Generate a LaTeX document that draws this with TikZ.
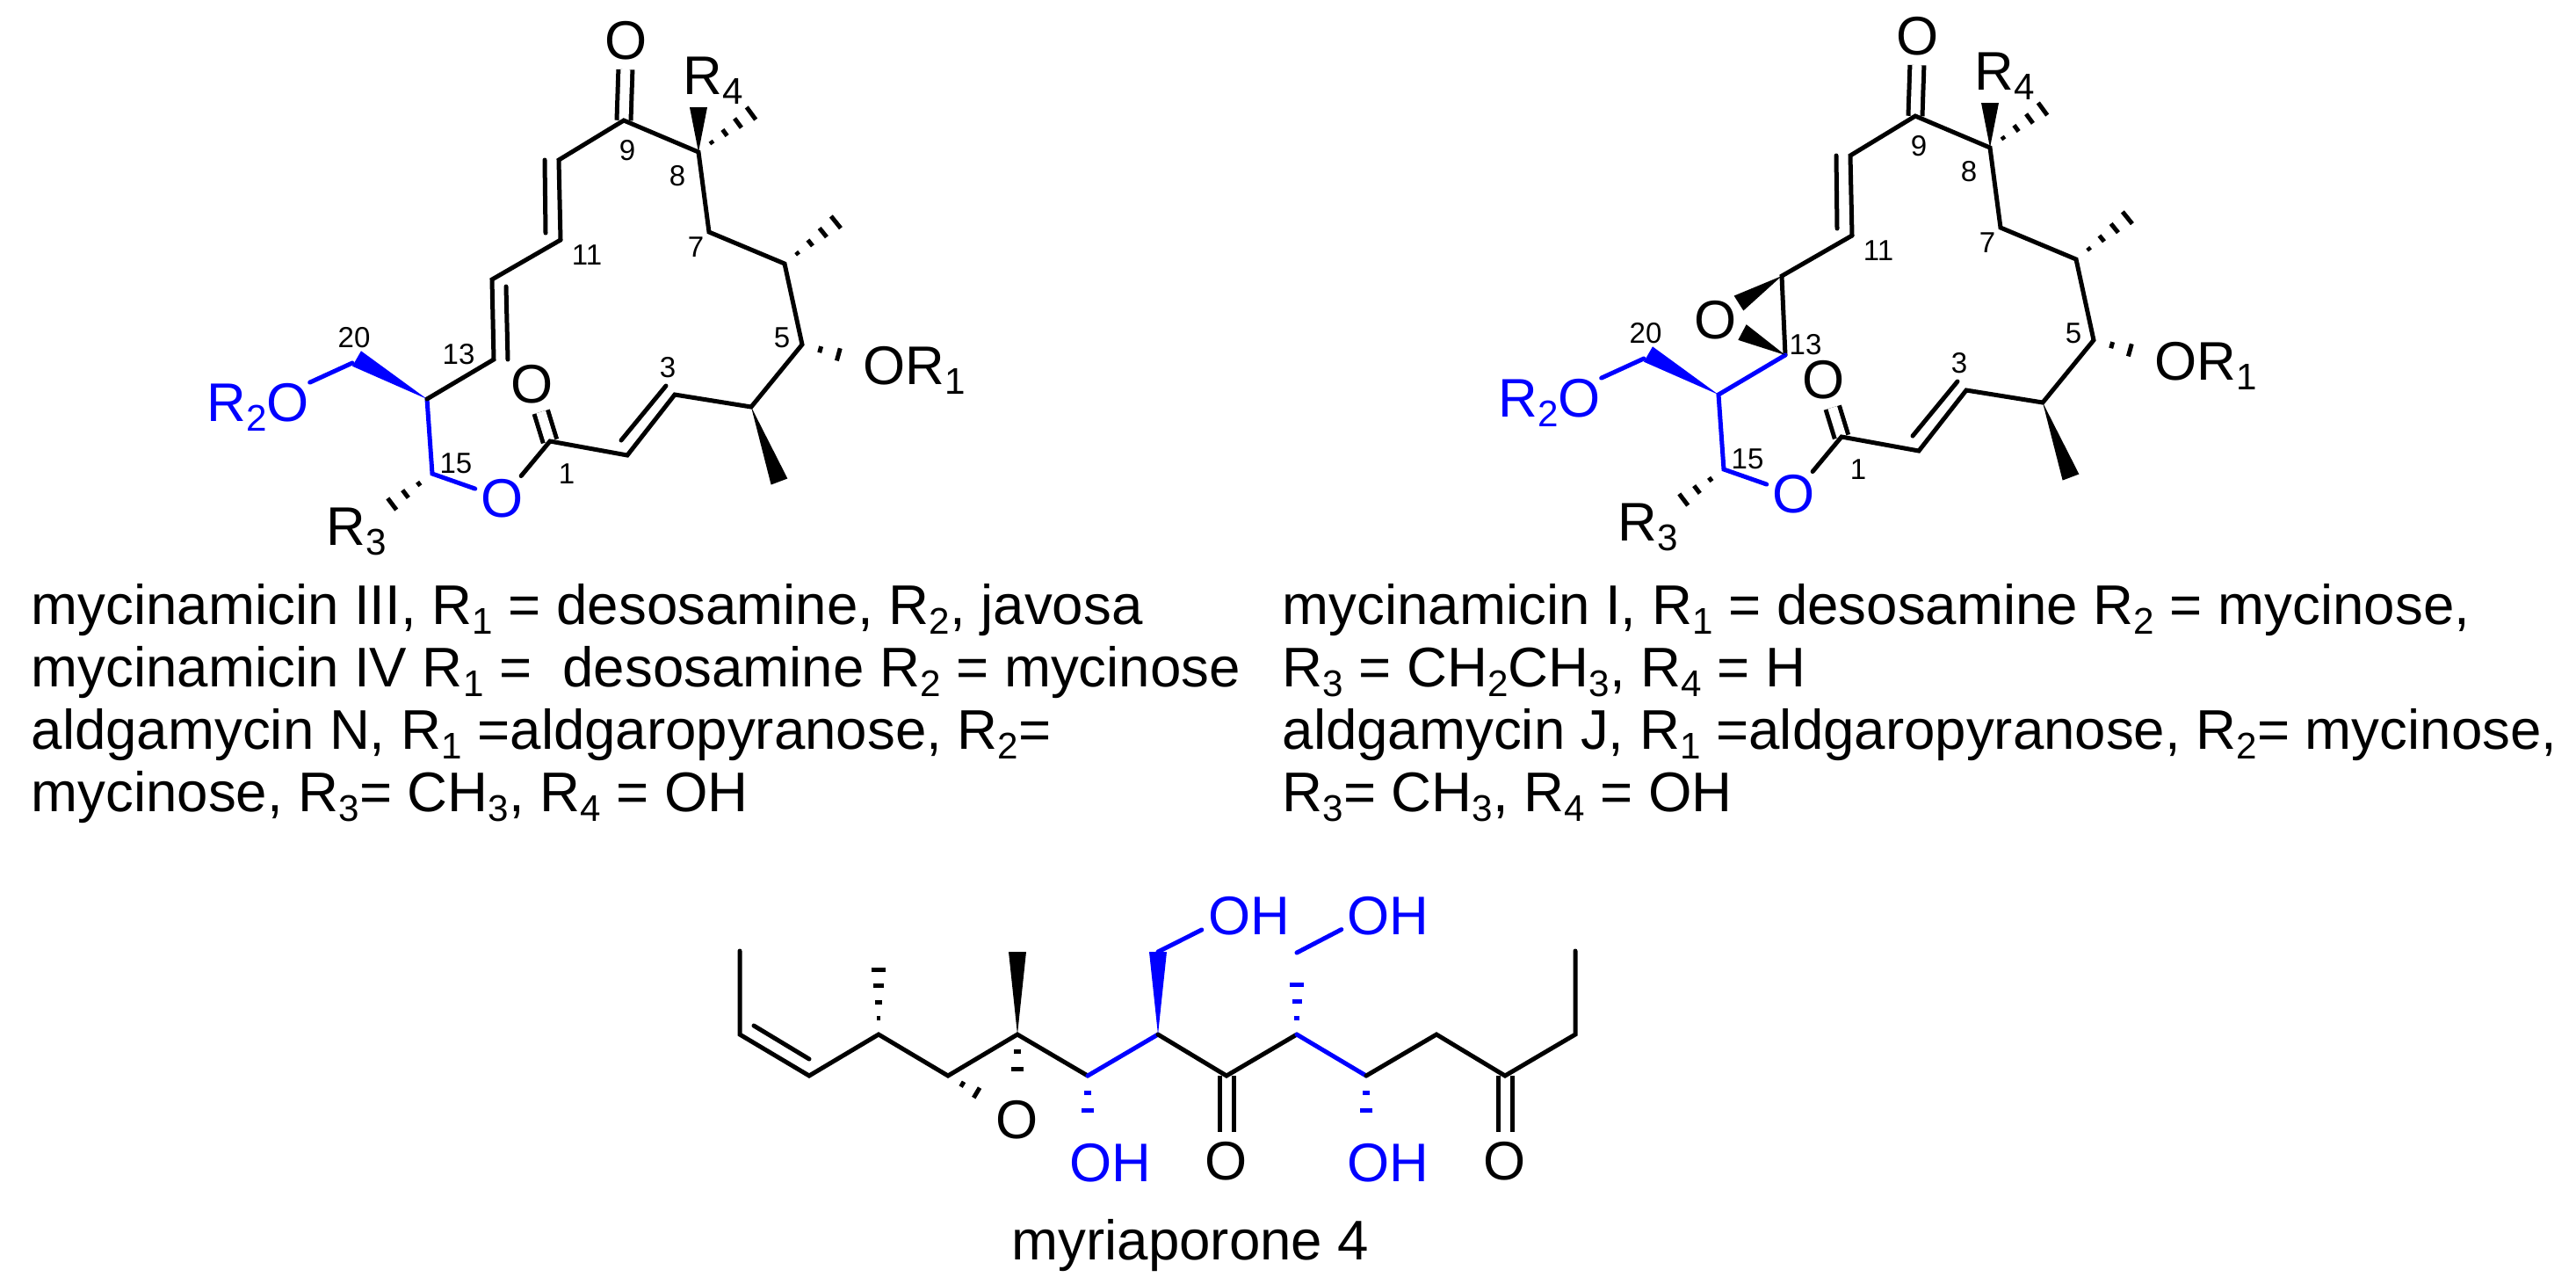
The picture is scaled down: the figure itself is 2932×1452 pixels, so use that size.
\documentclass[tikz,border=0pt]{standalone}
\usepackage{fontspec}
\setmainfont{Liberation Sans}
\usetikzlibrary{calc}
\definecolor{bondblue}{RGB}{0,0,255}
\newcommand{\lowsub}[1]{\raisebox{-1.1mm}{\fontsize{12}{12}\selectfont #1}}
\newcommand{\hashbond}[5][black]{%
  \foreach \k in {1,...,#4}{%
    \pgfmathsetmacro{\hpos}{\k/#4}
    \pgfmathsetmacro{\hw}{#5*\hpos*0.2845}
    \draw[color=#1,line width=0.5mm] ($(#2)!\hpos!(#3)!\hw pt!90:(#3)$) -- ($(#2)!\hpos!(#3)!\hw pt!-90:(#3)$);
  }}
\newcommand{\wedgebond}[4][black]{%
  \fill[#1] (#2) -- ($(#3)!#4*0.1mm!90:(#2)$) -- ($(#3)!#4*0.1mm!-90:(#2)$) -- cycle;}
\tikzset{
  bond/.style={line width=0.5mm,line cap=round},
  bluebond/.style={bond,color=bondblue},
  dblbond/.style={line width=0.5mm,double,double distance=1.1mm},
  atom/.style={circle,inner sep=0pt,minimum size=6.2mm,font=\fontsize{17.6}{20}\selectfont},
  biglabel/.style={inner sep=0pt,anchor=base west,font=\fontsize{17.6}{20}\selectfont},
  textline/.style={inner sep=0pt,anchor=base west,font=\fontsize{18.1}{20}\selectfont},
  numlabel/.style={inner sep=0pt,font=\fontsize{9.4}{11}\selectfont},
}
\begin{document}
\begin{tikzpicture}[x=0.1mm,y=-0.1mm]
    \useasboundingbox (0,0) rectangle (2932,1452);

    % the part that both macrolides share
    \foreach \s/\dx/\dy in {a/0/0,b/1470/-5}{
      \begin{scope}[shift={(\dx,\dy)}]
        \coordinate (\s c1) at (626,502);
        \coordinate (\s c2) at (714,518);
        \coordinate (\s c3) at (768,449);
        \coordinate (\s c4) at (855,463);
        \coordinate (\s c5) at (913,392);
        \coordinate (\s c6) at (893,300);
        \coordinate (\s c7) at (807,264);
        \coordinate (\s c8) at (795,173);
        \coordinate (\s c9) at (710,137);
        \coordinate (\s c10) at (636,182);
        \coordinate (\s c11) at (638,273);
        \coordinate (\s c14) at (486,454);
        \coordinate (\s c15) at (492,539);
        \coordinate (\s c20) at (401,413);
        % inner lines of the ring double bonds
        \coordinate (\s i10) at (620,182);
        \coordinate (\s i11) at (621,265);
        \coordinate (\s i2) at (707,501);
        \coordinate (\s i3) at (758,439);
        % free ends of wedges and hashes
        \coordinate (\s m4) at (887,548);
        \coordinate (\s m6) at (966,241);
        \coordinate (\s m8a) at (795,122);
        \coordinate (\s m8b) at (870,118);
        \coordinate (\s m5) at (975,409);
        \coordinate (\s m15) at (431,585);
        \coordinate (\s m20) at (406,408);

        \node[atom] (\s o9) at (713,46) {O};
        \node[atom] (\s o1) at (606,437) {O};
        \node[atom,text=bondblue] (\s o15) at (572,567) {O};
        \node[biglabel] (\s r1) at (982,437) {OR\lowsub{1}};
        \node[biglabel,text=bondblue] (\s r2) at (235,479) {R\lowsub{2}O};
        \node[biglabel] (\s r3) at (371,620) {R\lowsub{3}};
        \node[biglabel] (\s r4) at (777,107) {R\lowsub{4}};

        % carbonyls first, single bonds on top
        \draw[dblbond] (\s c9) -- (\s o9);
        \draw[dblbond] (\s c1) -- (\s o1);

        \draw[bond] (\s o15) -- (\s c1) -- (\s c2) -- (\s c3) -- (\s c4) -- (\s c5) -- (\s c6) -- (\s c7) -- (\s c8) -- (\s c9) -- (\s c10) -- (\s c11);
        \draw[bond] (\s i10) -- (\s i11);
        \draw[bond] (\s i2) -- (\s i3);
        \draw[bluebond] (\s c14) -- (\s c15) -- (\s o15);
        \draw[bluebond] (\s c20) -- (\s r2.north east);

        \wedgebond{\s c4}{\s m4}{10}
        \wedgebond{\s c8}{\s m8a}{10}
        \wedgebond[bondblue]{\s c14}{\s m20}{10}
        \hashbond{\s c8}{\s m8b}{5}{11}
        \hashbond{\s c6}{\s m6}{5}{11}
        \hashbond{\s c5}{\s m5}{3}{11}
        \hashbond{\s c15}{\s m15}{4}{11}

        \node[numlabel] (\s n1) at (645,539) {1};
        \node[numlabel] (\s n3) at (760,418) {3};
        \node[numlabel] (\s n5) at (890,384) {5};
        \node[numlabel] (\s n7) at (792,281) {7};
        \node[numlabel] (\s n8) at (771,200) {8};
        \node[numlabel] (\s n9) at (714,171) {9};
        \node[numlabel] (\s n11) at (668,290) {11};
        \node[numlabel] (\s n15) at (519,527) {15};
        \node[numlabel] (\s n20) at (403,384) {20};
      \end{scope}
    }

    % left macrolide: diene
    \coordinate (ac12) at (560,318);
    \coordinate (ac13) at (562,409);
    \coordinate (ai12) at (576,326);
    \coordinate (ai13) at (578,409);
    \draw[bond] (ac11) -- (ac12) -- (ac13) -- (ac14);
    \draw[bond] (ai12) -- (ai13);
    \node[numlabel] (an13) at (522,403) {13};

    % right macrolide: epoxide
    \coordinate (bc12) at (2028,314);
    \coordinate (bc13) at (2032,404);
    \coordinate (bw12) at (1979,345);
    \coordinate (bw13) at (1983,378);
    \node[atom] (bo12) at (1953,364) {O};
    \draw[bond] (bc11) -- (bc12) -- (bc13);
    \draw[bluebond] (bc13) -- (bc14);
    \wedgebond{bc12}{bw12}{10}
    \wedgebond{bc13}{bw13}{10}
    \node[numlabel] (bn13) at (2055,392) {13};

    % texts
    \node[textline] (la) at (35,710) {mycinamicin III, R\lowsub{1} = desosamine, R\lowsub{2}, javosa};
    \node[textline] (lb) at (35,781) {mycinamicin IV R\lowsub{1} = \ desosamine R\lowsub{2} = mycinose};
    \node[textline] (lc) at (35,852) {aldgamycin N, R\lowsub{1} =aldgaropyranose, R\lowsub{2}=};
    \node[textline] (ld) at (35,923) {mycinose, R\lowsub{3}= CH\lowsub{3}, R\lowsub{4} = OH};
    \node[textline] (ra) at (1459,710) {mycinamicin I, R\lowsub{1} = desosamine R\lowsub{2} = mycinose,};
    \node[textline] (rb) at (1459,781) {R\lowsub{3} = CH\lowsub{2}CH\lowsub{3}, R\lowsub{4} = H};
    \node[textline] (rc) at (1459,852) {aldgamycin J, R\lowsub{1} =aldgaropyranose, R\lowsub{2}= mycinose,};
    \node[textline] (rd) at (1459,923) {R\lowsub{3}= CH\lowsub{3}, R\lowsub{4} = OH};

    % myriaporone chain
    \coordinate (d1) at (842,1082);
    \coordinate (d2) at (842,1177);
    \coordinate (d3) at (921,1224);
    \coordinate (d4) at (1000,1177);
    \coordinate (d5) at (1079,1224);
    \coordinate (d6) at (1158,1177);
    \coordinate (d7) at (1238,1224);
    \coordinate (d8) at (1318,1177);
    \coordinate (d9) at (1396,1224);
    \coordinate (d10) at (1476,1177);
    \coordinate (d11) at (1555,1224);
    \coordinate (d12) at (1635,1177);
    \coordinate (d13) at (1713,1224);
    \coordinate (d14) at (1793,1177);
    \coordinate (d15) at (1793,1082);
    \coordinate (i2) at (858,1167);
    \coordinate (i3) at (921,1205);
    \coordinate (m4) at (1000,1085);
    \coordinate (m6a) at (1158,1083);
    \coordinate (m6b) at (1158,1236);
    \coordinate (m5) at (1128,1253);
    \coordinate (h7) at (1238,1283);
    \coordinate (h8) at (1318,1083);
    \coordinate (h10a) at (1476,1101);
    \coordinate (h10b) at (1476,1084);
    \coordinate (h11) at (1555,1283);

    \node[atom] (o5) at (1158,1274) {O};
    \node[atom] (o9) at (1396,1321) {O};
    \node[atom] (o13) at (1713,1321) {O};
    \node[biglabel,text=bondblue] (oh7) at (1217,1344) {OH};
    \node[biglabel,text=bondblue] (oh8) at (1375,1063) {OH};
    \node[biglabel,text=bondblue] (oh10) at (1533,1063) {OH};
    \node[biglabel,text=bondblue] (oh11) at (1533,1344) {OH};

    \draw[dblbond] (d9) -- (o9);
    \draw[dblbond] (d13) -- (o13);
    \draw[bond] (d1) -- (d2) -- (d3) -- (d4) -- (d5) -- (d6) -- (d7);
    \draw[bond] (i2) -- (i3);
    \draw[bluebond] (d7) -- (d8);
    \draw[bond] (d8) -- (d9) -- (d10);
    \draw[bluebond] (d10) -- (d11);
    \draw[bond] (d11) -- (d12) -- (d13) -- (d14) -- (d15);
    \draw[bluebond,shorten >=0.8mm] (h8) -- (oh8.195);
    \draw[bluebond,shorten >=0.7mm] (h10b) -- (oh10.195);

    \wedgebond{d6}{m6a}{10}
    \wedgebond[bondblue]{d8}{h8}{10}
    \hashbond{d4}{m4}{5}{10.5}
    \hashbond{d6}{m6b}{3}{11}
    \hashbond{d5}{m5}{3}{10}
    \hashbond[bondblue]{d7}{h7}{3}{11}
    \hashbond[bondblue]{d10}{h10a}{4}{11}
    \hashbond[bondblue]{d11}{h11}{3}{11}

    \node[textline] (title) at (1151,1433) {myriaporone 4};
\end{tikzpicture}
\end{document}
